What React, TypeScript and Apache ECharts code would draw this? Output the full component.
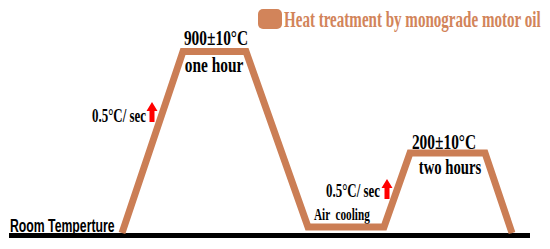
import React, { useEffect, useRef } from "react";
import * as echarts from "echarts";

// Schematic heat-treatment cycle (time units across, schematic temperature level up)
const seriesName = "Heat treatment by monograde motor oil";
const cycleTime = [122, 183, 246, 308, 384, 410, 485, 512];
const cycleLevel = [16, 197.5, 197.5, 22, 22, 96, 96, 16];
const baseTime = [9, 530];
const baseLevel = [13.5, 13.5];

const labelPeak1 = "900±10°C";
const labelHold1 = "one hour";
const labelRate = "0.5°C/ sec";
const labelPeak2 = "200±10°C";
const labelHold2 = "two hours";
const labelCool = "Air  cooling";
const labelRoom = "Room Temperture";

const LINE = "#cb7e55";
const LEG = "#d2845a";
const SERIF = "'Liberation Serif', 'Times New Roman', serif";
const SANS = "'Liberation Sans', Arial, sans-serif";
const SX = 0.7;

function txt(text: string, x: number, y: number, size: number, align: string, opts: any = {}) {
  return {
    type: "text",
    x,
    y,
    scaleX: opts.scaleX ?? SX,
    style: {
      text,
      x: 0,
      y: 0,
      fill: opts.color ?? "#000",
      font: `bold ${size}px ${opts.family ?? SERIF}`,
      align,
      verticalAlign: "middle",
    },
  };
}

function arrow(cx: number, top: number, bottom: number) {
  const hw = 5.5;
  const sw = 2.5;
  const hh = 9;
  return {
    type: "polygon",
    shape: {
      points: [
        [cx, top],
        [cx + hw, top + hh],
        [cx + sw, top + hh],
        [cx + sw, bottom],
        [cx - sw, bottom],
        [cx - sw, top + hh],
        [cx - hw, top + hh],
      ],
    },
    style: { fill: "#ff0000" },
  };
}

export default function App() {
  const ref = useRef<HTMLDivElement>(null);
  useEffect(() => {
    if (!ref.current) return;
    const chart = echarts.init(ref.current, null, { renderer: "svg" });
    chart.setOption({
      animation: false,
      backgroundColor: "#ffffff",
      grid: { left: 0, right: 0, top: 0, bottom: 0 },
      xAxis: { type: "value", min: 0, max: 550, show: false },
      yAxis: { type: "value", min: 0, max: 249, show: false },
      legend: { show: false },
      series: [
        {
          name: "baseline",
          type: "line",
          data: baseTime.map((t, i) => [t, baseLevel[i]]),
          symbol: "none",
          lineStyle: { color: "#000", width: 5, cap: "butt" },
          z: 1,
        },
        {
          name: seriesName,
          type: "line",
          data: cycleTime.map((t, i) => [t, cycleLevel[i]]),
          symbol: "none",
          lineStyle: { color: LINE, width: 7, join: "miter", cap: "butt" },
          z: 2,
        },
      ],
      graphic: [
        {
          type: "rect",
          shape: { x: 258, y: 9, width: 24, height: 20, r: 5 },
          style: { fill: LEG },
        },
        txt(seriesName, 284, 19, 24, "left", { color: LEG, scaleX: 0.628 }),
        txt(labelPeak1, 216, 37, 22, "center"),
        txt(labelHold1, 214, 64, 22, "center"),
        txt(labelRate, 146, 116, 18.5, "right"),
        arrow(152, 102, 122),
        txt(labelPeak2, 444, 141, 22, "center"),
        txt(labelHold2, 450, 167, 21, "center"),
        txt(labelRate, 380, 191, 18.5, "right"),
        arrow(387, 179, 199),
        txt(labelCool, 314, 215, 16, "left"),
        txt(labelRoom, 10, 226, 17.5, "left", { family: SANS }),
      ],
    });
    return () => chart.dispose();
  }, []);
  return (
    <div
      ref={ref}
      style={{ position: "fixed", left: 0, top: 0, width: 550, height: 249 }}
    />
  );
}
